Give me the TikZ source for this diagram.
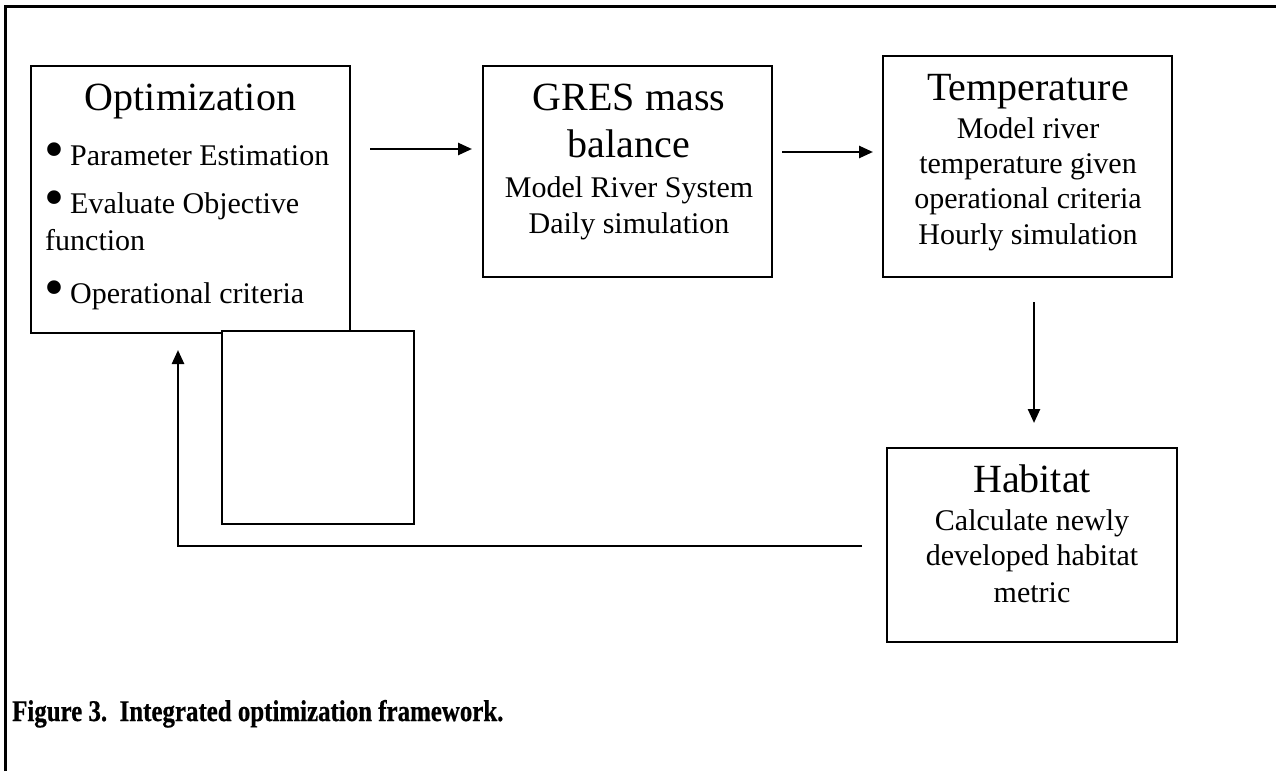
\documentclass[tikz,border=0pt]{standalone}
\usepackage{fontspec}
\setmainfont{Liberation Serif}
\newfontfamily\capfont[FakeStretch=0.83,FakeBold=0.6]{Liberation Serif Bold}
\usetikzlibrary{arrows.meta}
\newcommand{\bulletmark}{\makebox[25.5pt][l]{\raisebox{-3.4pt}[0pt][0pt]{\fontsize{57}{57}\selectfont•}}}
\begin{document}
\begin{tikzpicture}[x=1pt,y=-1pt,
  box/.style={draw,line width=2pt,fill=white,inner sep=0pt,outer sep=0pt},
  ttl/.style={anchor=base,inner sep=0pt,font=\fontsize{40}{46}\selectfont},
  body/.style={anchor=base,inner sep=0pt,font=\fontsize{30}{36}\selectfont},
  bodyl/.style={anchor=base west,inner sep=0pt,font=\fontsize{30}{36}\selectfont},
  arr/.style={line width=2.5pt,-{Triangle[length=14pt,width=12pt]}},
  frame/.style={line width=2.5pt}]
\useasboundingbox (0,0) rectangle (1276,771);
% outer frame (left and top edges only)
\coordinate (fb) at (5.5,771);
\coordinate (fc) at (5.5,6.5);
\coordinate (fr) at (1276,6.5);
\draw[frame] (fb) -- (fc) -- (fr);

% boxes
\node[box,minimum width=319pt,minimum height=267pt] (opt) at (190.5,199.5) {};
\node[box,minimum width=192pt,minimum height=193pt] (blank) at (318,427.5) {};
\node[box,minimum width=289pt,minimum height=211pt] (gres) at (627.5,171.5) {};
\node[box,minimum width=289pt,minimum height=221pt] (temp) at (1027.5,166.5) {};
\node[box,minimum width=290pt,minimum height=194pt] (hab) at (1032,545) {};

% Optimization text
\node[ttl] (optT) at (190.5,110) {Optimization};
\node[bodyl] (o1) at (44.5,165) {\bulletmark Parameter Estimation};
\node[bodyl] (o2) at (44.5,213) {\bulletmark Evaluate Objective};
\node[bodyl] (o3) at (45,250) {function};
\node[bodyl] (o4) at (44.5,303) {\bulletmark Operational criteria};

% GRES text
\node[ttl] (gT1) at (629,110) {GRES mass};
\node[ttl] (gT2) at (629,157) {balance};
\node[body] (g1) at (629,197) {Model River System};
\node[body] (g2) at (629,233) {Daily simulation};

% Temperature text
\node[ttl] (tT) at (1028,100) {Temperature};
\node[body] (t1) at (1028,138) {Model river};
\node[body] (t2) at (1028,173) {temperature given};
\node[body] (t3) at (1028,208) {operational criteria};
\node[body] (t4) at (1028,244) {Hourly simulation};

% Habitat text
\node[ttl] (hT) at (1032,492) {Habitat};
\node[body] (h1) at (1032,530) {Calculate newly};
\node[body] (h2) at (1032,565) {developed habitat};
\node[body] (h3) at (1032,602) {metric};

% connectors
\coordinate (a1s) at (370,149);
\coordinate (a1e) at (472,149);
\draw[arr] (a1s) -- (a1e);
\coordinate (a2s) at (782,152);
\coordinate (a2e) at (873,152);
\draw[arr] (a2s) -- (a2e);
\coordinate (a3s) at (1034,302);
\coordinate (a3e) at (1034,423);
\draw[arr] (a3s) -- (a3e);
\coordinate (a4s) at (862,546);
\coordinate (a4c) at (178,546);
\coordinate (a4e) at (178,350);
\draw[arr] (a4s) -- (a4c) -- (a4e);

% caption
\node[anchor=base west,inner sep=0pt,font=\fontsize{30}{36}\capfont] (cap) at (12,721) {Figure 3.\ \ Integrated optimization framework.};
\end{tikzpicture}
\end{document}
